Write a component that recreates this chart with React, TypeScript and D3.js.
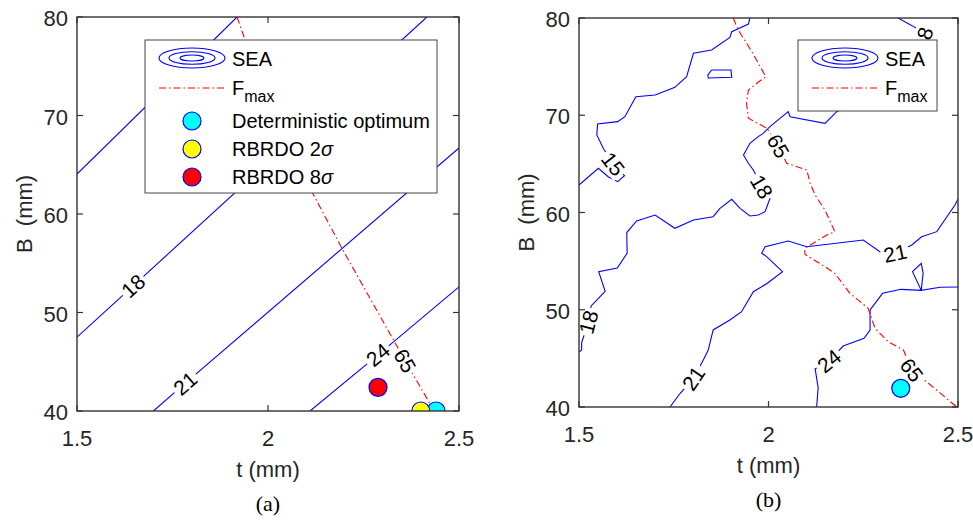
import * as d3 from 'd3';

type Pt = [number, number];
type Contour = { level: string; pts: Pt[]; labels: number[] };

const tTicks = [1.5, 2, 2.5];
const bTicks = [40, 50, 60, 70, 80];

// (a) SEA contours (straight)
const seaA: Contour[] = [
  { level: '15', pts: [[1.5, 64.06], [1.919, 80]], labels: [] },
  { level: '18', pts: [[1.5, 47.5], [1.647, 52.7], [2.416, 80]], labels: [1] },
  { level: '21', pts: [[1.7, 40], [1.783, 42.8], [2.5, 66.7]], labels: [1] },
  { level: '24', pts: [[2.11, 40], [2.288, 45.7], [2.5, 52.6]], labels: [1] },
];
const fmaxA: Contour = {
  level: '65',
  pts: [[1.919, 80], [1.94, 77.66], [2.118, 62.03], [2.196, 56.35], [2.359, 45.1], [2.435, 40]],
  labels: [4],
};
const optA = [
  { name: 'Deterministic optimum', t: 2.44, B: 40, fill: '#00ffff' },
  { name: 'RBRDO 2', t: 2.4, B: 40, fill: '#ffff00' },
  { name: 'RBRDO 8', t: 2.288, B: 42.4, fill: '#ff0000' },
];

// (b) SEA contours (surrogate, jagged)
const seaB: Contour[] = [
  {
    level: '15',
    pts: [[1.951, 80], [1.947, 79.38], [1.903, 78.59], [1.898, 78.01], [1.85, 76.71], [1.802, 76.37],
      [1.784, 73.96], [1.753, 72.87], [1.701, 72.08], [1.65, 71.91], [1.621, 69.85], [1.602, 69.34],
      [1.549, 69.1], [1.547, 67.97], [1.564, 66.6], [1.59, 64.99], [1.62, 63.78], [1.602, 63.17],
      [1.577, 63.68], [1.551, 64.54], [1.5, 62.83]],
    labels: [15],
  },
  {
    level: '15',
    pts: [[1.85, 74.65], [1.901, 74.65], [1.903, 73.9], [1.841, 73.83], [1.84, 74.14], [1.85, 74.65]],
    labels: [],
  },
  {
    level: '18',
    pts: [[2.342, 80], [2.391, 78.94], [2.408, 77.84], [2.347, 73.6], [2.18, 70.37], [2.149, 69.17],
      [2.057, 69.85], [2.052, 70.37], [2.004, 68.83], [1.986, 68.14], [1.973, 67.8], [1.951, 67.12],
      [1.934, 65.91], [1.947, 65.06], [1.96, 64.37], [1.982, 62.65], [2.004, 61.46], [1.991, 60.08],
      [1.973, 59.74], [1.951, 59.64], [1.925, 60.43], [1.903, 61.36], [1.872, 60.43], [1.854, 59.57],
      [1.802, 59.23], [1.753, 58.38], [1.701, 59.74], [1.652, 59.13], [1.626, 57.94], [1.627, 55.81],
      [1.601, 54.29], [1.552, 53.91], [1.569, 51.9], [1.532, 50.39], [1.525, 48.74], [1.507, 46.63],
      [1.507, 45.86], [1.5, 45.66]],
    labels: [2, 15, 34],
  },
  {
    level: '21',
    pts: [[2.5, 61.39], [2.492, 60.77], [2.444, 58.03], [2.404, 57.51], [2.378, 56.66], [2.334, 55.81],
      [2.294, 55.97], [2.25, 57.17], [2.101, 56.48], [2.052, 57.07], [1.991, 56.48], [1.982, 55.81],
      [1.995, 55.46], [2.037, 53.91], [1.997, 52.72], [1.96, 51.86], [1.929, 49.8], [1.898, 48.95],
      [1.854, 47.92], [1.841, 45.86], [1.828, 44.83], [1.802, 42.95], [1.767, 41.41], [1.74, 40]],
    labels: [5, 21],
  },
  {
    level: '24',
    pts: [[2.5, 52.34], [2.453, 52.31], [2.403, 52.0], [2.408, 53.74], [2.403, 54.77], [2.38, 53.91],
      [2.403, 52.0], [2.35, 52.1], [2.301, 51.69], [2.268, 49.97], [2.268, 47.92], [2.252, 47.06],
      [2.197, 46.27], [2.16, 44.73], [2.123, 43.94], [2.131, 42.0], [2.127, 40]],
    labels: [13],
  },
];
const fmaxB: Contour = {
  level: '65',
  pts: [[1.907, 80], [1.92, 78.77], [1.956, 76.54], [1.993, 73.96], [1.978, 73.55], [1.947, 72.6],
    [1.942, 71.23], [1.947, 69.69], [1.996, 68.66], [2.026, 66.84], [2.048, 65.06], [2.101, 64.37],
    [2.11, 63.0], [2.123, 61.8], [2.149, 60.26], [2.175, 58.03], [2.154, 57.69], [2.096, 56.32],
    [2.096, 55.7], [2.149, 54.43], [2.175, 53.75], [2.215, 51.69], [2.263, 50.15], [2.281, 48.09],
    [2.316, 46.71], [2.356, 45.86], [2.378, 43.8], [2.422, 42.44], [2.497, 40]],
  labels: [9, 26],
};
const optB = [{ name: 'Deterministic optimum', t: 2.349, B: 41.92, fill: '#00ffff' }];

const BLUE = '#0000ff';
const RED = '#ff0000';
const AX = '#333333';
const SANS = '"Liberation Sans", Arial, sans-serif';
const DASHDOT = '7,3,1.5,3';

function labelInfo(c: Contour, x: d3.ScaleLinear<number, number>, y: d3.ScaleLinear<number, number>) {
  return c.labels.map((i) => {
    const p = c.pts[i];
    const a = c.pts[Math.max(0, i - 1)];
    const b = c.pts[Math.min(c.pts.length - 1, i + 1)];
    let ang = (Math.atan2(y(b[1]) - y(a[1]), x(b[0]) - x(a[0])) * 180) / Math.PI;
    if (ang > 90) ang -= 180;
    if (ang < -90) ang += 180;
    return { text: c.level, cx: x(p[0]), cy: y(p[1]), ang };
  });
}

function Panel(props: {
  id: string;
  x0: number; x1: number; y0: number; y1: number;
  sea: Contour[]; fmax: Contour;
  opts: { name: string; t: number; B: number; fill: string }[];
  tag: string;
  legend: { x: number; y: number; w: number; h: number; full: boolean };
}) {
  const { id, x0, x1, y0, y1, sea, fmax, opts, tag, legend } = props;
  const x = d3.scaleLinear().domain([1.5, 2.5]).range([x0, x1]);
  const y = d3.scaleLinear().domain([40, 80]).range([y1, y0]);
  const line = d3.line<Pt>().x((d) => x(d[0])).y((d) => y(d[1]));
  const labels = [...sea, fmax].flatMap((c) => labelInfo(c, x, y));
  const tk = 6;
  const lx = legend.x, ly = legend.y;
  const iconX = lx + 47;
  const textX = lx + 87;
  return (
    <g>
      <defs>
        <clipPath id={`clip-${id}`}>
          <rect x={x0} y={y0} width={x1 - x0} height={y1 - y0} />
        </clipPath>
        <mask id={`mask-${id}`} maskUnits="userSpaceOnUse" x={0} y={0} width={973} height={526}>
          <rect x={0} y={0} width={973} height={526} fill="white" />
          {labels.map((l, i) => (
            <rect key={i} x={-(l.text.length * 12 + 4) / 2} y={-10} width={l.text.length * 12 + 4} height={20}
              fill="black" transform={`translate(${l.cx},${l.cy}) rotate(${l.ang})`} />
          ))}
        </mask>
      </defs>
      <g clipPath={`url(#clip-${id})`}>
        <g mask={`url(#mask-${id})`}>
          {sea.map((c, i) => (
            <path key={i} d={line(c.pts) || ''} fill="none" stroke={BLUE} strokeWidth={1.1} />
          ))}
          <path d={line(fmax.pts) || ''} fill="none" stroke={RED} strokeWidth={1.1} strokeDasharray={DASHDOT} />
        </g>
        {labels.map((l, i) => (
          <text key={i} transform={`translate(${l.cx},${l.cy}) rotate(${l.ang})`} textAnchor="middle"
            dominantBaseline="central" fontSize={21} fontFamily={SANS} fill="#000">{l.text}</text>
        ))}
        {opts.map((o, i) => (
          <circle key={i} cx={x(o.t)} cy={y(o.B)} r={9} fill={o.fill} stroke={BLUE} strokeWidth={1.2} />
        ))}
      </g>
      {/* axes box and ticks */}
      <rect x={x0} y={y0} width={x1 - x0} height={y1 - y0} fill="none" stroke={AX} strokeWidth={1.4} />
      {tTicks.map((t) => (
        <g key={t}>
          <line x1={x(t)} x2={x(t)} y1={y1} y2={y1 - tk} stroke={AX} strokeWidth={1.2} />
          <line x1={x(t)} x2={x(t)} y1={y0} y2={y0 + tk} stroke={AX} strokeWidth={1.2} />
          <text x={x(t)} y={y1 + 35} textAnchor="middle" fontSize={22} fontFamily={SANS} fill="#262626">{t}</text>
        </g>
      ))}
      {bTicks.map((b) => (
        <g key={b}>
          <line x1={x0} x2={x0 + tk} y1={y(b)} y2={y(b)} stroke={AX} strokeWidth={1.2} />
          <line x1={x1} x2={x1 - tk} y1={y(b)} y2={y(b)} stroke={AX} strokeWidth={1.2} />
          <text x={x0 - 9} y={y(b) + 9} textAnchor="end" fontSize={22} fontFamily={SANS} fill="#262626">{b}</text>
        </g>
      ))}
      <text x={(x0 + x1) / 2} y={y1 + 66} textAnchor="middle" fontSize={22} fontFamily={SANS} fill="#262626">t (mm)</text>
      <text transform={`translate(${x0 - 45},${(y0 + y1) / 2}) rotate(-90)`} textAnchor="middle" fontSize={22}
        fontFamily={SANS} fill="#262626" style={{ whiteSpace: 'pre' }}>{'B  (mm)'}</text>
      <text x={(x0 + x1) / 2} y={y1 + 100} textAnchor="middle" fontSize={22}
        fontFamily={'"Liberation Serif", "Times New Roman", serif'} fill="#000">{tag}</text>
      {/* legend */}
      <rect x={lx} y={ly} width={legend.w} height={legend.h} fill="#fff" stroke="#444" strokeWidth={1} />
      <g fill="none" stroke={BLUE} strokeWidth={1.1}>
        <ellipse cx={iconX} cy={ly + 18} rx={33} ry={10} />
        <ellipse cx={iconX} cy={ly + 18} rx={23} ry={6.3} />
        <ellipse cx={iconX} cy={ly + 18} rx={12} ry={3} />
      </g>
      <text x={textX} y={ly + 26} fontSize={20} fontFamily={SANS} fill="#000">SEA</text>
      <line x1={iconX - 33} x2={iconX + 33} y1={ly + 48} y2={ly + 48} stroke={RED} strokeWidth={1.1}
        strokeDasharray={DASHDOT} />
      <text x={textX} y={ly + 55} fontSize={20} fontFamily={SANS} fill="#000">
        F<tspan dy={7} fontSize={16}>max</tspan>
      </text>
      {legend.full &&
        optA.map((o, i) => (
          <g key={i}>
            <circle cx={iconX} cy={ly + 81 + i * 28} r={9} fill={o.fill} stroke={BLUE} strokeWidth={1.2} />
            <text x={textX} y={ly + 88 + i * 28} fontSize={20} fontFamily={SANS} fill="#000">
              {o.name}
              {i > 0 && <tspan fontStyle="italic">σ</tspan>}
            </text>
          </g>
        ))}
    </g>
  );
}

export default function App() {
  return (
    <svg width={973} height={526} style={{ position: 'absolute', left: 0, top: 0, background: '#fff' }}>
      <rect width={973} height={526} fill="#fff" />
      <Panel id="a" x0={77} x1={459} y0={17} y1={411} sea={seaA} fmax={fmaxA} opts={optA} tag="(a)"
        legend={{ x: 145, y: 40, w: 292, h: 153, full: true }} />
      <Panel id="b" x0={579} x1={958} y0={18} y1={407} sea={seaB} fmax={fmaxB} opts={optB} tag="(b)"
        legend={{ x: 798, y: 40, w: 139, h: 71, full: false }} />
    </svg>
  );
}
